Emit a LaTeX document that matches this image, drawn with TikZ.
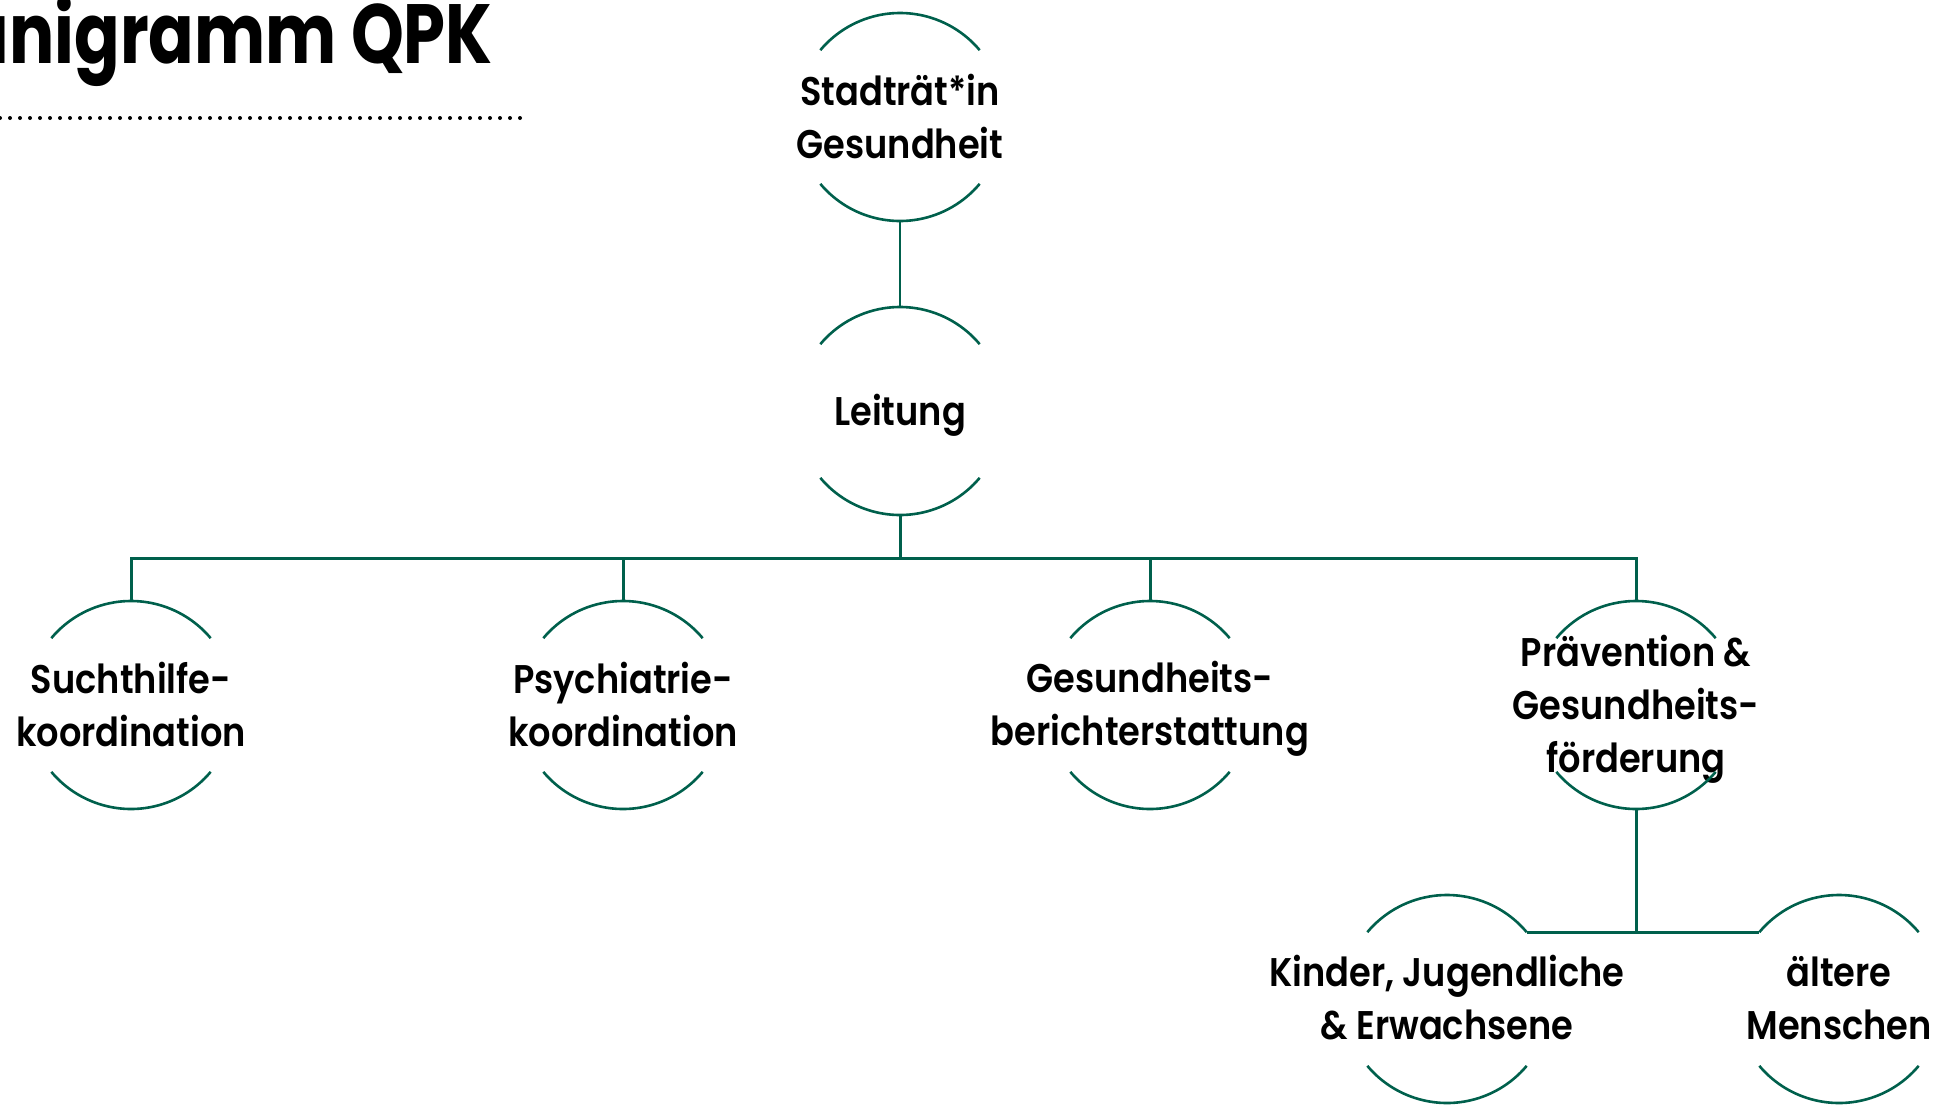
\documentclass[tikz,border=0pt]{standalone}
\usepackage{fontspec}
\setmainfont{Poppins}[BoldFont={Poppins SemiBold},BoldFeatures={FakeStretch=0.88}]
\newfontfamily\titlefont{Poppins Bold}[FakeStretch=0.8]
\definecolor{qgreen}{RGB}{0,96,76}
\tikzset{
  orgtext/.style={font=\bfseries\fontsize{40}{53}\selectfont, align=center, text=black, inner sep=0pt},
  orgcirc/.style={circle, minimum size=208pt, inner sep=0pt, outer sep=0pt, draw=none},
  arcline/.style={draw=qgreen, line width=2.6pt},
  conn/.style={draw=qgreen, line width=3pt},
  thinconn/.style={draw=qgreen, line width=1.6pt},
  dotline/.style={draw=black, line width=4pt, line cap=round, dash pattern=on 0pt off 10pt},
}
\newcommand{\orgnode}[5][-4pt]{%
  \node[orgcirc] (#2) at (#3,-#4) {};
  \node[orgtext, yshift=#1] (#2t) at (#2.center) {#5};
  \draw[arcline] (#2.40) arc[start angle=40,end angle=140,radius=104pt];
  \draw[arcline] (#2.220) arc[start angle=220,end angle=320,radius=104pt];
}
\begin{document}
\begin{tikzpicture}[x=1pt,y=1pt]
\useasboundingbox (0,0) rectangle (1939,-1104);
% title
\node[font=\titlefont\fontsize{84}{84}\selectfont, anchor=base east, inner sep=0pt] (title) at (493,-63) {Organigramm QPK};
\coordinate (d1) at (0,-118);
\coordinate (d2) at (527,-118);
\draw[dotline] (d1) -- (d2);
% nodes
\orgnode[1pt]{top}{900}{117}{Stadträt*in\\Gesundheit}
\orgnode{lei}{900}{411}{Leitung}
\orgnode[1pt]{sucht}{131}{705}{Suchthilfe-\\koordination}
\orgnode[1pt]{psych}{623}{705}{Psychiatrie-\\koordination}
\orgnode[-4pt]{gesb}{1150}{705}{Gesundheits-\\berichterstattung}
\orgnode{praev}{1636}{705}{Prävention \&\\Gesundheits-\\förderung}
\orgnode[1pt]{kind}{1447}{999}{Kinder, Jugendliche\\\& Erwachsene}
\orgnode[1pt]{alt}{1839}{999}{ältere\\Menschen}
% connectors
\coordinate (bus) at (0,-558);
\draw[thinconn] (top.south) -- (lei.north);
\draw[conn] (lei.south) -- (lei.south |- bus);
\draw[conn] (sucht.north) -- (sucht.north |- bus) -- (praev.north |- bus) -- (praev.north);
\draw[conn] (psych.north) -- (psych.north |- bus);
\draw[conn] (gesb.north) -- (gesb.north |- bus);
\draw[conn] (praev.south) -- (praev.south |- kind.40);
\draw[conn] (kind.40) -- (alt.140);
\end{tikzpicture}
\end{document}
